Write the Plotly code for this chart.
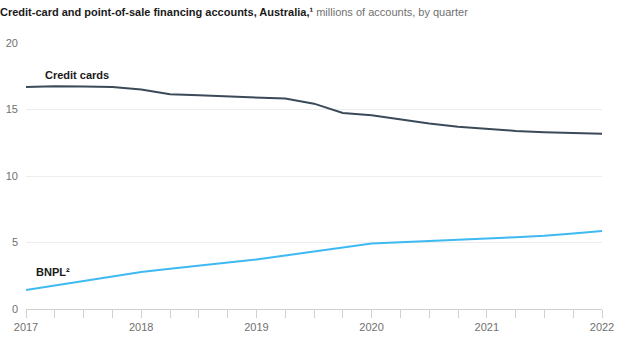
import plotly.graph_objects as go

quarters = [2017 + 0.25 * i for i in range(21)]
credit_cards = [16.70, 16.74, 16.72, 16.70, 16.50, 16.14, 16.07, 15.99, 15.89, 15.82,
                15.44, 14.74, 14.56, 14.24, 13.94, 13.71, 13.54, 13.39, 13.29, 13.21, 13.17]
bnpl = [1.43, 1.77, 2.10, 2.45, 2.78, 3.02, 3.25, 3.48, 3.73, 4.02,
        4.32, 4.62, 4.93, 5.02, 5.10, 5.20, 5.31, 5.40, 5.50, 5.68, 5.86]
year_ticks = [2017, 2018, 2019, 2020, 2021, 2022]
y_ticks = [0, 5, 10, 15, 20]

FONT = "Liberation Sans, Arial, sans-serif"

fig = go.Figure()
fig.add_trace(go.Scatter(x=quarters, y=credit_cards, mode="lines",
                         line=dict(color="#3b4a59", width=2), hoverinfo="skip"))
fig.add_trace(go.Scatter(x=quarters, y=bnpl, mode="lines",
                         line=dict(color="#3fb9f2", width=2), hoverinfo="skip"))

fig.add_annotation(x=2017.15, y=17.6, xref="x", yref="y", text="<b>Credit cards</b>",
                   showarrow=False, xanchor="left", yanchor="middle",
                   font=dict(family=FONT, size=11, color="#1a1a1a"))
fig.add_annotation(x=2017.07, y=2.75, xref="x", yref="y",
                   text="<b>BNPL²</b>",
                   showarrow=False, xanchor="left", yanchor="middle",
                   font=dict(family=FONT, size=11, color="#1a1a1a"))

fig.update_layout(
    width=624, height=345,
    margin=dict(l=26, r=22, t=43, b=36),
    paper_bgcolor="white", plot_bgcolor="white",
    showlegend=False,
    title=dict(
        text="<b>Credit-card and point-of-sale financing accounts, Australia,¹</b>"
             "<span style='color:#707070'> millions of accounts, by quarter</span>",
        x=0, xref="container", xanchor="left", y=0.975, yanchor="top", yref="container",
        font=dict(family=FONT, size=11, color="#1a1a1a"),
    ),
    font=dict(family=FONT, size=11, color="#707070"),
)

fig.update_xaxes(
    range=[2017, 2022], tickvals=year_ticks, ticktext=[str(y) for y in year_ticks],
    showgrid=False, zeroline=False, showline=True, linecolor="#d0d0d0", linewidth=1,
    ticks="outside", ticklen=8, tickcolor="#d0d0d0", automargin=False,
    minor=dict(dtick=0.25, tick0=2017, ticks="outside", ticklen=8, tickcolor="#d0d0d0", showgrid=False),
    tickfont=dict(family=FONT, size=11, color="#707070"),
)
fig.update_yaxes(
    range=[0, 20], tickvals=y_ticks, showgrid=True, gridcolor="#eeeeee", gridwidth=1,
    zeroline=False, showline=False, ticks="", ticklabelstandoff=7, automargin=False,
    tickfont=dict(family=FONT, size=11, color="#707070"),
)

fig.write_html("out.html")
